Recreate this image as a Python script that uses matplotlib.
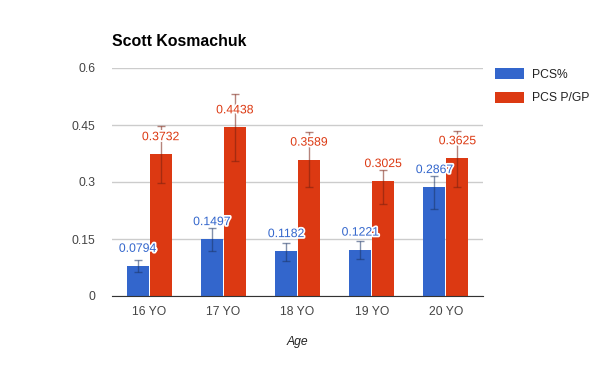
import matplotlib.pyplot as plt
import matplotlib.patheffects as pe
import numpy as np

plt.rcParams["font.family"] = ["Liberation Sans", "DejaVu Sans"]

ages = ["16 YO", "17 YO", "18 YO", "19 YO", "20 YO"]
pcs_pct = [0.0794, 0.1497, 0.1182, 0.1221, 0.2867]
pcs_pct_lo = [0.062, 0.118, 0.093, 0.097, 0.228]
pcs_pct_hi = [0.094, 0.178, 0.140, 0.146, 0.316]
pcs_pgp = [0.3732, 0.4438, 0.3589, 0.3025, 0.3625]
pcs_pgp_lo = [0.297, 0.354, 0.286, 0.241, 0.288]
pcs_pgp_hi = [0.447, 0.532, 0.431, 0.332, 0.435]

BLUE = "#3366cc"
RED = "#dc3912"

fig = plt.figure(figsize=(5.94, 3.65), dpi=100)
ax = fig.add_axes([112 / 594, 69 / 365, 371 / 594, 228 / 365])

x = np.arange(len(ages))
w = 0.295
gap = 0.007

series = [
    ("PCS%", pcs_pct, pcs_pct_lo, pcs_pct_hi, BLUE, "#1c3566", x - w / 2 - gap),
    ("PCS P/GP", pcs_pgp, pcs_pgp_lo, pcs_pgp_hi, RED, "#7a2010", x + w / 2 + gap),
]

for name, vals, lo, hi, col, ecol, pos in series:
    ax.bar(pos, vals, width=w, color=col, label=name, zorder=2)
    yerr = [np.array(vals) - np.array(lo), np.array(hi) - np.array(vals)]
    ax.errorbar(pos, vals, yerr=yerr, fmt="none", ecolor=ecol, alpha=0.55,
                elinewidth=1, capsize=3, capthick=1, zorder=3)
    for p, v in zip(pos, vals):
        ax.annotate(f"{v:.4f}", (p, v), xytext=(0, 17), textcoords="offset pixels",
                    ha="center", va="center", color=col, fontsize=8.8, zorder=4,
                    path_effects=[pe.withStroke(linewidth=2.5, foreground="white")])

ax.set_xlim(-0.5, len(ages) - 0.5)
ax.set_ylim(0, 0.6)
ax.set_yticks([0, 0.15, 0.3, 0.45, 0.6])
ax.set_yticklabels(["0", "0.15", "0.3", "0.45", "0.6"])
ax.set_xticks(x)
ax.set_xticklabels(ages)
ax.grid(axis="y", color="#cccccc", linewidth=1, zorder=0)
ax.set_axisbelow(True)
for s in ["top", "right", "left"]:
    ax.spines[s].set_visible(False)
ax.spines["bottom"].set_color("#333333")
ax.spines["bottom"].set_zorder(5)
ax.tick_params(length=0, labelsize=8.7, colors="#444444", pad=7)
ax.tick_params(axis="y", pad=12)

ax.set_xlabel("Age", fontsize=8.7, style="italic", color="#222222", labelpad=13)
fig.text(112 / 594, 1 - 42 / 365, "Scott Kosmachuk", fontsize=11.4, fontweight="bold",
         color="#000000", va="center", ha="left")

leg = ax.legend(loc="upper left", bbox_to_anchor=(1.02, 1.02), frameon=False,
                fontsize=8.7, handlelength=2.4, handleheight=1.0, labelspacing=0.9,
                handletextpad=0.6, borderaxespad=0)
for t in leg.get_texts():
    t.set_color("#222222")

fig.savefig("out.png", dpi=100)
